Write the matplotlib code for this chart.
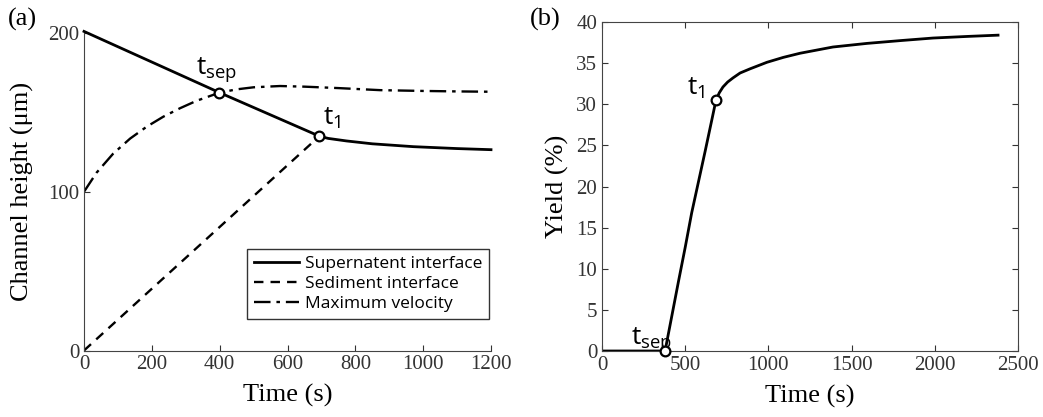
import matplotlib
matplotlib.use("Agg")
import matplotlib.pyplot as plt
import numpy as np

# Panel (a) data
time_a_sup = [0, 399, 694, 720, 774, 850, 971, 1100, 1200]
sup_height = [201, 162.5, 135, 133.6, 132, 130.2, 128.4, 127.2, 126.5]
time_a_sed = [0, 694]
sed_height = [0, 135]
time_a_vel = [0, 37, 86, 136, 185, 234, 283, 332, 399, 450, 500, 578, 650, 750, 873, 1000, 1100, 1200]
vel_height = [100, 112, 124, 133.5, 141, 147.3, 152.6, 157.3, 162.4, 164.5, 165.8, 166.6, 166.2, 165.3, 164, 163.5, 163.2, 163]
tsep_a = (399, 162.5)
t1_a = (694, 135)

# Panel (b) data
time_b = [0, 379, 420, 460, 500, 539, 580, 620, 660, 685, 705, 727, 755, 787, 830, 889, 991, 1090, 1190, 1388, 1593, 1800, 1989, 2200, 2380]
yield_b = [0, 0, 4.3, 8.5, 12.6, 16.8, 20.6, 24.3, 28.1, 30.5, 31.4, 32.1, 32.7, 33.2, 33.8, 34.3, 35.1, 35.7, 36.2, 36.96, 37.4, 37.75, 38.05, 38.25, 38.4]
tsep_b = (379, 0)
t1_b = (685, 30.5)

serif = ['Liberation Serif', 'DejaVu Serif']
sans = ['Open Sans', 'DejaVu Sans']
tick_color = '#333333'

fig = plt.figure(figsize=(10.43, 4.17), dpi=100)

# ---------- Panel (a)
axa = fig.add_axes([84/1043, 1-350.5/417, (491-84)/1043, (350.5-33)/417])
axa.plot(time_a_sup, sup_height, color='black', lw=2, label='Supernatent interface', clip_on=False)
axa.plot(time_a_sed, sed_height, color='black', lw=1.7, ls=(0, (4, 3)), label='Sediment interface')
axa.plot(time_a_vel, vel_height, color='black', lw=1.7, ls=(0, (7, 2.5, 1.5, 2.5)), label='Maximum velocity')
for p in (tsep_a, t1_a):
    axa.plot(p[0], p[1], 'o', ms=7, mfc='white', mec='black', mew=1.6, zorder=5)
axa.text(tsep_a[0]-68, tsep_a[1]+12, r'$\mathregular{t_{sep}}$', fontsize=19, family=sans)
axa.text(t1_a[0]+12, t1_a[1]+7, r'$\mathregular{t_1}$', fontsize=19, family=sans)
axa.set_xlim(0, 1200)
axa.set_ylim(0, 200)
axa.set_xticks([0, 200, 400, 600, 800, 1000, 1200])
axa.set_yticks([0, 100, 200])
for s in ('top', 'right'):
    axa.spines[s].set_visible(False)
for s in ('left', 'bottom'):
    axa.spines[s].set_color('#444444')
axa.tick_params(direction='in', length=4, labelsize=15, colors=tick_color)
for lab in axa.get_xticklabels() + axa.get_yticklabels():
    lab.set_family(serif)
axa.set_xlabel('Time (s)', fontsize=19, family=serif, labelpad=7)
axa.set_ylabel('Channel height (μm)', fontsize=19, family=serif, labelpad=10)
leg = axa.legend(loc='lower right', bbox_to_anchor=(0.995, 0.1), frameon=True, fancybox=False,
                 edgecolor='black', prop={'family': sans, 'size': 12.5},
                 handlelength=2.6, handletextpad=0.3, borderpad=0.4, labelspacing=0.22,
                 borderaxespad=0)
leg.get_frame().set_linewidth(1.0)
fig.text(8/1043, 1-19/417, '(a)', fontsize=19, family=serif, va='center')

# ---------- Panel (b)
axb = fig.add_axes([602/1043, 1-351/417, (1018-602)/1043, (351-22)/417])
axb.plot(time_b, yield_b, color='black', lw=2)
for p in (tsep_b, t1_b):
    axb.plot(p[0], p[1], 'o', ms=7, mfc='white', mec='black', mew=1.6, zorder=5, clip_on=False)
axb.text(tsep_b[0]-205, tsep_b[1]+0.9, r'$\mathregular{t_{sep}}$', fontsize=19, family=sans)
axb.text(t1_b[0]-175, t1_b[1]+0.6, r'$\mathregular{t_1}$', fontsize=19, family=sans)
axb.set_xlim(0, 2500)
axb.set_ylim(0, 40)
axb.set_xticks(np.arange(0, 2501, 500))
axb.set_yticks(np.arange(0, 41, 5))
for s in axb.spines.values():
    s.set_color('#444444')
axb.tick_params(direction='in', length=4, labelsize=15, colors=tick_color, top=True, right=True)
for lab in axb.get_xticklabels() + axb.get_yticklabels():
    lab.set_family(serif)
axb.set_xlabel('Time (s)', fontsize=19, family=serif, labelpad=7)
axb.set_ylabel('Yield (%)', fontsize=19, family=serif, labelpad=5)
fig.text(530/1043, 1-19/417, '(b)', fontsize=19, family=serif, va='center')

fig.savefig('out.png', dpi=100)
